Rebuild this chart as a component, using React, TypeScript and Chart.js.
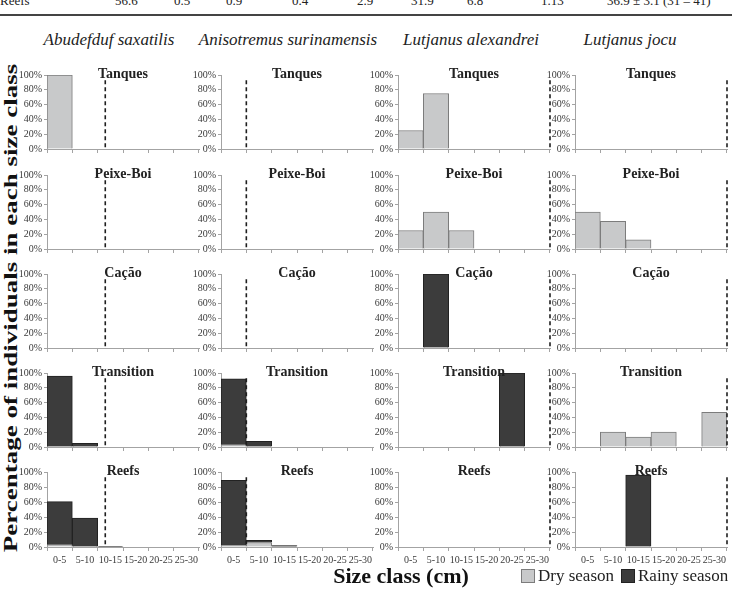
import React, { useEffect, useRef } from "react";
import { Chart, registerables } from "chart.js";

Chart.register(...registerables);

// ---------------- data ----------------
const sizeClasses = ["0-5", "5-10", "10-15", "15-20", "20-25", "25-30"];
const speciesNames = ["Abudefduf saxatilis", "Anisotremus surinamensis", "Lutjanus alexandrei", "Lutjanus jocu"];
const habitats = ["Tanques", "Peixe-Boi", "Cação", "Transition", "Reefs"];
const yTickValues = [0, 20, 40, 60, 80, 100];
const seasons = ["Dry season", "Rainy season"];
// size at first maturity (dashed line), cm
const maturitySizeCm = [11.5, 5, 30, 30];
const tableRow = ["Reefs", "56.6", "0.5", "0.9", "0.4", "2.9", "31.9", "6.8", "1.13", "36.9 ± 3.1 (31 – 41)"];

// percentage of individuals per size class; one row per habitat (Tanques, Peixe-Boi, Cação, Transition, Reefs)
const saxatilisDry = [
  [100, 0, 0, 0, 0, 0],
  [0, 0, 0, 0, 0, 0],
  [0, 0, 0, 0, 0, 0],
  [0, 0, 0, 0, 0, 0],
  [3, 0, 0, 0, 0, 0],
];
const saxatilisRainy = [
  [0, 0, 0, 0, 0, 0],
  [0, 0, 0, 0, 0, 0],
  [0, 0, 0, 0, 0, 0],
  [96, 5, 0, 0, 0, 0],
  [57.5, 38.5, 1, 0, 0, 0],
];
const surinamensisDry = [
  [0, 0, 0, 0, 0, 0],
  [0, 0, 0, 0, 0, 0],
  [0, 0, 0, 0, 0, 0],
  [3, 0, 0, 0, 0, 0],
  [2, 6, 0, 0, 0, 0],
];
const surinamensisRainy = [
  [0, 0, 0, 0, 0, 0],
  [0, 0, 0, 0, 0, 0],
  [0, 0, 0, 0, 0, 0],
  [89, 7.5, 0, 0, 0, 0],
  [87, 3, 2, 0, 0, 0],
];
const alexandreiDry = [
  [25, 75, 0, 0, 0, 0],
  [25, 50, 25, 0, 0, 0],
  [0, 0, 0, 0, 0, 0],
  [0, 0, 0, 0, 0, 0],
  [0, 0, 0, 0, 0, 0],
];
const alexandreiRainy = [
  [0, 0, 0, 0, 0, 0],
  [0, 0, 0, 0, 0, 0],
  [0, 100, 0, 0, 0, 0],
  [0, 0, 0, 0, 100, 0],
  [0, 0, 0, 0, 0, 0],
];
const jocuDry = [
  [0, 0, 0, 0, 0, 0],
  [50, 37.5, 12.5, 0, 0, 0],
  [0, 0, 0, 0, 0, 0],
  [0, 20, 13.3, 20, 0, 46.7],
  [0, 0, 0, 0, 0, 0],
];
const jocuRainy = [
  [0, 0, 0, 0, 0, 0],
  [0, 0, 0, 0, 0, 0],
  [0, 0, 0, 0, 0, 0],
  [0, 0, 0, 0, 0, 0],
  [0, 0, 96, 0, 0, 0],
];

const dryBySpecies = [saxatilisDry, surinamensisDry, alexandreiDry, jocuDry];
const rainyBySpecies = [saxatilisRainy, surinamensisRainy, alexandreiRainy, jocuRainy];

// ---------------- layout / style ----------------
const SERIF = '"Liberation Serif", "Times New Roman", serif';
const DRY_FILL = "#c8c9ca";
const DRY_BORDER = "#7c7c7c";
const RAINY_FILL = "#3c3c3c";
const RAINY_BORDER = "#222222";
const AXIS_COLOR = "#a3a3a3";
const TICK_TEXT = "#3a3a3a";

const colLeft = [47, 221, 398, 575];
const rowTop = [75, 175, 274, 373, 472];
const PLOT_W = 152;
const PLOT_H = 75;

type PanelProps = { col: number; row: number };

function Panel({ col, row }: PanelProps) {
  const ref = useRef<HTMLCanvasElement | null>(null);
  const isBottom = row === habitats.length - 1;
  const padTop = 22;
  const yW = 46;
  const padRight = 6;
  const xH = isBottom ? 26 : 7;
  const w = yW + PLOT_W + padRight;
  const h = padTop + PLOT_H + xH;
  const left = colLeft[col] - yW;
  const top = rowTop[row] - padTop;

  useEffect(() => {
    if (!ref.current) return;
    const title = habitats[row];
    const matCm = maturitySizeCm[col];
    const overlay = {
      id: "panelOverlay",
      afterDraw(chart: any) {
        const { ctx, chartArea } = chart;
        const ys = chart.scales.y;
        // dashed maturity line
        const x = chartArea.left + (matCm / 30) * (chartArea.right - chartArea.left);
        ctx.save();
        ctx.strokeStyle = "#1e1e1e";
        ctx.lineWidth = 1.6;
        ctx.setLineDash([4, 3]);
        ctx.beginPath();
        ctx.moveTo(x, ys.getPixelForValue(93));
        ctx.lineTo(x, chartArea.bottom - 1);
        ctx.stroke();
        ctx.restore();
        // panel title
        ctx.save();
        ctx.font = `bold 14px ${SERIF}`;
        ctx.fillStyle = "#222";
        ctx.textAlign = "center";
        ctx.textBaseline = "middle";
        ctx.fillText(title, (chartArea.left + chartArea.right) / 2, chartArea.top - 1);
        ctx.restore();
      },
    };
    const chart = new Chart(ref.current, {
      type: "bar",
      data: {
        labels: sizeClasses,
        datasets: [
          {
            label: seasons[0],
            data: dryBySpecies[col][row],
            backgroundColor: DRY_FILL,
            borderColor: DRY_BORDER,
            borderWidth: 1,
          },
          {
            label: seasons[1],
            data: rainyBySpecies[col][row],
            backgroundColor: RAINY_FILL,
            borderColor: RAINY_BORDER,
            borderWidth: 1,
          },
        ],
      },
      options: {
        animation: false,
        responsive: false,
        devicePixelRatio: 1,
        layout: { padding: { top: padTop, right: padRight, left: 0, bottom: 0 } },
        plugins: { legend: { display: false }, tooltip: { enabled: false }, title: { display: false } },
        datasets: { bar: { categoryPercentage: 1, barPercentage: 1 } },
        scales: {
          x: {
            stacked: true,
            offset: true,
            grid: { display: true, drawOnChartArea: false, drawTicks: true, tickLength: 4, color: AXIS_COLOR, offset: true },
            border: { display: true, color: AXIS_COLOR, width: 1 },
            ticks: {
              display: isBottom,
              autoSkip: false,
              maxRotation: 0,
              minRotation: 0,
              padding: 3,
              color: TICK_TEXT,
              font: { family: SERIF, size: 10 },
            },
            afterFit: (s: any) => {
              s.height = xH;
            },
          },
          y: {
            stacked: true,
            min: 0,
            max: 100,
            grid: { display: true, drawOnChartArea: false, drawTicks: true, tickLength: 3, color: AXIS_COLOR },
            border: { display: true, color: AXIS_COLOR, width: 1 },
            ticks: {
              autoSkip: false,
              padding: 2,
              color: TICK_TEXT,
              font: { family: SERIF, size: 10 },
              callback: (v: any) => `${v}%`,
            },
            afterBuildTicks: (s: any) => {
              s.ticks = yTickValues.map((v) => ({ value: v }));
            },
            afterFit: (s: any) => {
              s.width = yW;
            },
          },
        },
      },
      plugins: [overlay],
    });
    return () => chart.destroy();
  }, []);

  return (
    <canvas
      ref={ref}
      width={w}
      height={h}
      style={{ position: "absolute", left, top, width: w, height: h }}
    />
  );
}

const tableX = [0, 115, 174, 226, 292, 357, 411, 467, 541, 607];
const speciesCenterX = [109, 288, 471, 630];

export default function App() {
  const panels: JSX.Element[] = [];
  for (let r = 0; r < habitats.length; r++) {
    for (let c = 0; c < speciesNames.length; c++) {
      panels.push(<Panel key={`${r}-${c}`} col={c} row={r} />);
    }
  }
  return (
    <div
      style={{
        position: "absolute",
        left: 0,
        top: 0,
        width: 732,
        height: 590,
        overflow: "hidden",
        background: "#fff",
        fontFamily: SERIF,
      }}
    >
      {tableRow.map((t, i) => (
        <div
          key={`t${i}`}
          style={{ position: "absolute", left: tableX[i], top: -7, fontSize: 13, lineHeight: "15px", color: "#222", whiteSpace: "nowrap" }}
        >
          {t}
        </div>
      ))}
      <div style={{ position: "absolute", left: 0, top: 14, width: 732, height: 1.5, background: "#444" }} />
      {speciesNames.map((s, i) => (
        <div
          key={`s${i}`}
          style={{
            position: "absolute",
            left: speciesCenterX[i] - 100,
            width: 200,
            top: 30,
            textAlign: "center",
            fontStyle: "italic",
            fontSize: 17,
            lineHeight: "20px",
            color: "#222",
            whiteSpace: "nowrap",
          }}
        >
          {s}
        </div>
      ))}
      <div
        style={{
          position: "absolute",
          left: 11 - 270,
          top: 308 - 16,
          width: 540,
          height: 32,
          lineHeight: "32px",
          textAlign: "center",
          fontWeight: "bold",
          fontSize: 27,
          color: "#111",
          transform: "rotate(-90deg) scaleY(0.66)",
          whiteSpace: "nowrap",
        }}
      >
        Percentage of individuals in each size class
      </div>
      {panels}
      <div
        style={{
          position: "absolute",
          left: 401 - 100,
          width: 200,
          top: 565,
          textAlign: "center",
          fontWeight: "bold",
          fontSize: 22,
          lineHeight: "22px",
          color: "#111",
          whiteSpace: "nowrap",
        }}
      >
        Size class (cm)
      </div>
      <div
        style={{
          position: "absolute",
          left: 521,
          top: 565,
          display: "flex",
          alignItems: "center",
          fontSize: 17,
          lineHeight: "22px",
          color: "#222",
          whiteSpace: "nowrap",
        }}
      >
        <span style={{ width: 12, height: 12, background: DRY_FILL, border: `1px solid ${DRY_BORDER}`, marginRight: 3 }} />
        <span style={{ marginRight: 7 }}>{seasons[0]}</span>
        <span style={{ width: 12, height: 12, background: RAINY_FILL, border: `1px solid ${RAINY_BORDER}`, marginRight: 3 }} />
        <span>{seasons[1]}</span>
      </div>
    </div>
  );
}
